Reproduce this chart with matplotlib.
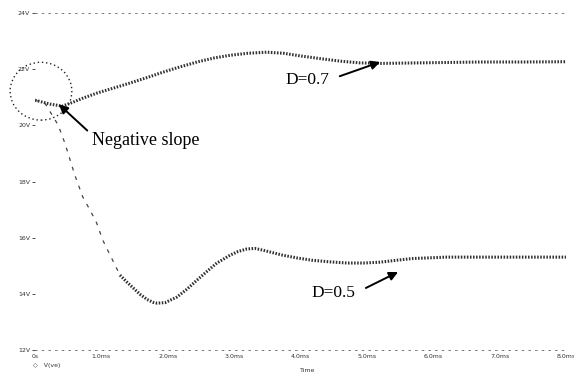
import matplotlib

matplotlib.use("Agg")
import matplotlib.pyplot as plt
from matplotlib.patches import Ellipse

# D=0.7 output voltage (time in ms, volts)
t_d07 = [0.0, 0.23, 0.41, 0.53, 0.73, 0.93, 1.18, 1.43, 1.68, 1.93, 2.19, 2.44, 2.69,
         2.94, 3.2, 3.49, 3.75, 3.99, 4.3, 4.6, 4.89, 5.2, 5.5, 6.1, 6.7, 7.3, 8.0]
v_d07 = [20.90, 20.76, 20.69, 20.79, 20.98, 21.15, 21.33, 21.51, 21.70, 21.90, 22.09, 22.26, 22.40,
         22.50, 22.57, 22.61, 22.57, 22.48, 22.38, 22.29, 22.23, 22.21, 22.22, 22.24, 22.26, 22.26, 22.27]

# D=0.5 output voltage: faint start-up part, then the settled trace
t_d05_start = [0.0, 0.15, 0.35, 0.45, 0.60, 0.72, 0.83, 0.93, 1.02, 1.08, 1.28]
v_d05_start = [20.90, 20.79, 20.01, 19.37, 18.23, 17.45, 16.98, 16.52, 15.92, 15.63, 14.67]
t_d05 = [1.28, 1.38, 1.48, 1.58, 1.69, 1.78, 1.84, 1.96, 2.14, 2.29, 2.44, 2.59, 2.74, 2.94,
         3.06, 3.19, 3.31, 3.43, 3.58, 3.73, 3.95, 4.17, 4.45, 4.70, 4.95, 5.2, 5.45, 5.69,
         6.2, 6.7, 7.2, 8.0]
v_d05 = [14.67, 14.43, 14.21, 13.99, 13.80, 13.70, 13.67, 13.69, 13.89, 14.17, 14.49, 14.80, 15.10, 15.38,
         15.51, 15.60, 15.62, 15.56, 15.47, 15.38, 15.28, 15.20, 15.14, 15.10, 15.10, 15.13, 15.20, 15.26,
         15.31, 15.31, 15.31, 15.31]

x_ticks = [0, 1, 2, 3, 4, 5, 6, 7, 8]
x_labels = ["0s", "1.0ms", "2.0ms", "3.0ms", "4.0ms", "5.0ms", "6.0ms", "7.0ms", "8.0ms"]
y_ticks = [12, 14, 16, 18, 20, 22, 24]
y_labels = ["12V", "14V", "16V", "18V", "20V", "22V", "24V"]

fig = plt.figure(figsize=(5.74, 3.76), dpi=100)
ax = fig.add_axes([0.061, 0.069, 0.925, 0.896])

trace = dict(color="#303030", lw=2.2, linestyle=(0, (0.5, 0.5)))
ax.plot(t_d07, v_d07, **trace)
ax.plot(t_d05, v_d05, **trace)
ax.plot(t_d05_start, v_d05_start, color="#444444", lw=0.9, linestyle=(0, (3, 5)))

ax.set_xlim(0, 8)
ax.set_ylim(12, 24)
ax.set_xticks(x_ticks)
ax.set_xticklabels(x_labels)
ax.set_yticks(y_ticks)
ax.set_yticklabels(y_labels)
ax.tick_params(labelsize=4.5, length=2, width=0.6, pad=1.5, colors="#333333")
ax.tick_params(axis="x", length=0, pad=3)

for side in ("left", "right"):
    ax.spines[side].set_visible(False)
for side in ("top", "bottom"):
    ax.spines[side].set_linestyle((0, (2, 6)))
    ax.spines[side].set_color("#666666")
    ax.spines[side].set_linewidth(0.6)

# circled start-up region
ax.add_patch(Ellipse((0.09, 21.22), 0.93, 2.06, fill=False, linestyle=(0, (1, 2)),
                     lw=1.0, color="#222222", clip_on=False))

serif = dict(family="Liberation Serif", color="black")
arrow = dict(arrowstyle="-|>", color="black", lw=1.4, mutation_scale=13, shrinkA=2, shrinkB=0)

ax.annotate("Negative slope", xy=(0.36, 20.75), xytext=(0.86, 19.48),
            ha="left", va="center", fontsize=13,
            arrowprops=dict(arrow, relpos=(0, 0.8)), **serif)
ax.annotate("D=0.7", xy=(5.2, 22.26), xytext=(3.77, 21.62),
            ha="left", va="center", fontsize=12.5,
            arrowprops=dict(arrow, relpos=(1, 0.5), shrinkA=6), **serif)
ax.annotate("D=0.5", xy=(5.47, 14.78), xytext=(4.17, 14.03),
            ha="left", va="center", fontsize=12.5,
            arrowprops=dict(arrow, relpos=(1, 0.5), shrinkA=6), **serif)

fig.text(33 / 574, 1 - 366 / 376, "\u25c7   V(ve)", fontsize=4.5, color="#333333", va="center")
fig.text(300 / 574, 1 - 371 / 376, "Time", fontsize=4.5, color="#333333", va="center")

fig.savefig("out.png", dpi=100)
plt.close(fig)
